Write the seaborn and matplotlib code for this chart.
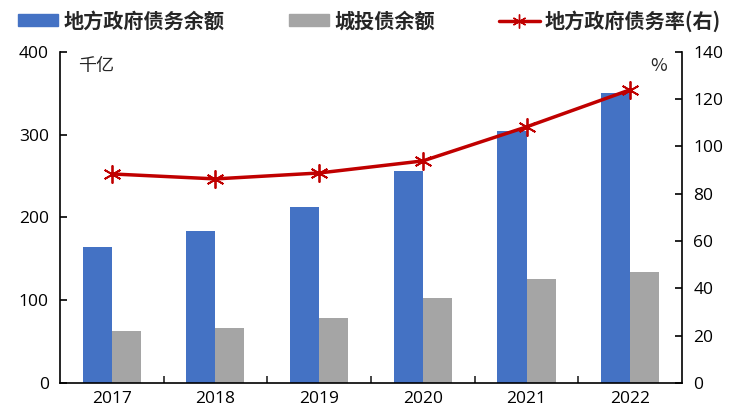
import matplotlib
matplotlib.use("Agg")
import matplotlib.pyplot as plt
from matplotlib.patches import Patch
from matplotlib.lines import Line2D
import seaborn as sns
import pandas as pd

years = ["2017", "2018", "2019", "2020", "2021", "2022"]
local_debt = [164, 184, 213, 256, 305, 350]
lgfv_debt = [63, 66, 79, 103, 126, 134]
debt_ratio = [88.4, 86.3, 88.8, 93.9, 108.3, 124.0]
left_ticks = [0, 100, 200, 300, 400]
right_ticks = [0, 20, 40, 60, 80, 100, 120, 140]

s1 = "地方政府债务余额"
s2 = "城投债余额"
s3 = "地方政府债务率(右)"

sns.set_theme(style="white")
plt.rcParams["font.family"] = ["Noto Sans CJK SC", "DejaVu Sans"]

df = pd.DataFrame({
    "year": years * 2,
    "value": local_debt + lgfv_debt,
    "series": [s1] * len(years) + [s2] * len(years),
})
dline = pd.DataFrame({"year": years, "ratio": debt_ratio})

blue = "#4472C4"
gray = "#A5A5A5"
red = "#C00000"

fig = plt.figure(figsize=(7.39, 4.15), dpi=100)
ax = fig.add_axes([0.081, 0.077, 0.842, 0.798])
sns.barplot(data=df, x="year", y="value", hue="series", palette=[blue, gray],
            width=0.56, saturation=1, linewidth=0, ax=ax, legend=False)
ax.set_xlim(-0.5, 5.5)
ax.set_ylim(0, 400)
ax.set_yticks(left_ticks)
ax.set_xlabel("")
ax.set_ylabel("")

ax2 = ax.twinx()
sns.lineplot(data=dline, x=range(len(years)), y="ratio", color=red, lw=2.5,
             marker=(6, 2, 0), markersize=13, markeredgewidth=1.3,
             markeredgecolor=red, ax=ax2, legend=False)
ax2.set_ylim(0, 140)
ax2.set_yticks(right_ticks)
ax2.set_ylabel("")
ax.set_xlim(-0.5, 5.5)

tickfont = dict(family=["Open Sans", "DejaVu Sans"], size=12.5)
ax.set_xticks(range(len(years)))
ax.set_xticklabels(years, fontdict=tickfont)
ax.set_xticks([i + 0.5 for i in range(len(years) - 1)], minor=True)
ax.set_yticklabels([str(t) for t in left_ticks], fontdict=tickfont)
ax2.set_yticklabels([str(t) for t in right_ticks], fontdict=tickfont)

for a in (ax, ax2):
    a.spines["top"].set_visible(False)
    for sp in a.spines.values():
        sp.set_color("black")
        sp.set_linewidth(1.2)
ax.spines["right"].set_visible(False)
ax2.spines["left"].set_visible(False)
ax2.spines["bottom"].set_visible(False)

ax.tick_params(axis="y", direction="in", length=5, width=1.2, colors="black", left=True, pad=8)
ax.tick_params(axis="x", which="major", length=0, pad=6, colors="black")
ax.tick_params(axis="x", which="minor", direction="in", length=5, width=1.2, bottom=True)
ax2.tick_params(axis="y", direction="in", length=5, width=1.2, colors="black", right=True, pad=8)

ax.text(0.03, 0.985, "千亿", transform=ax.transAxes, fontsize=13, va="top", ha="left")
ax2.text(0.975, 0.985, "%", transform=ax2.transAxes, fontsize=13, va="top", ha="right")

handles = [
    Patch(facecolor=blue, edgecolor=blue),
    Patch(facecolor=gray, edgecolor=gray),
    Line2D([0], [0], color=red, lw=2.5, marker=(6, 2, 0), markersize=10,
           markeredgecolor=red),
]
fig.legend(handles, [s1, s2, s3], loc="upper center", bbox_to_anchor=(0.5, 1.02),
           ncol=3, frameon=False, columnspacing=3.2, handlelength=2.0,
           handleheight=0.5, handletextpad=0.25,
           prop=dict(family=["Noto Sans CJK SC", "DejaVu Sans"], weight="bold", size=14.5))

fig.savefig("out.png", dpi=100)
